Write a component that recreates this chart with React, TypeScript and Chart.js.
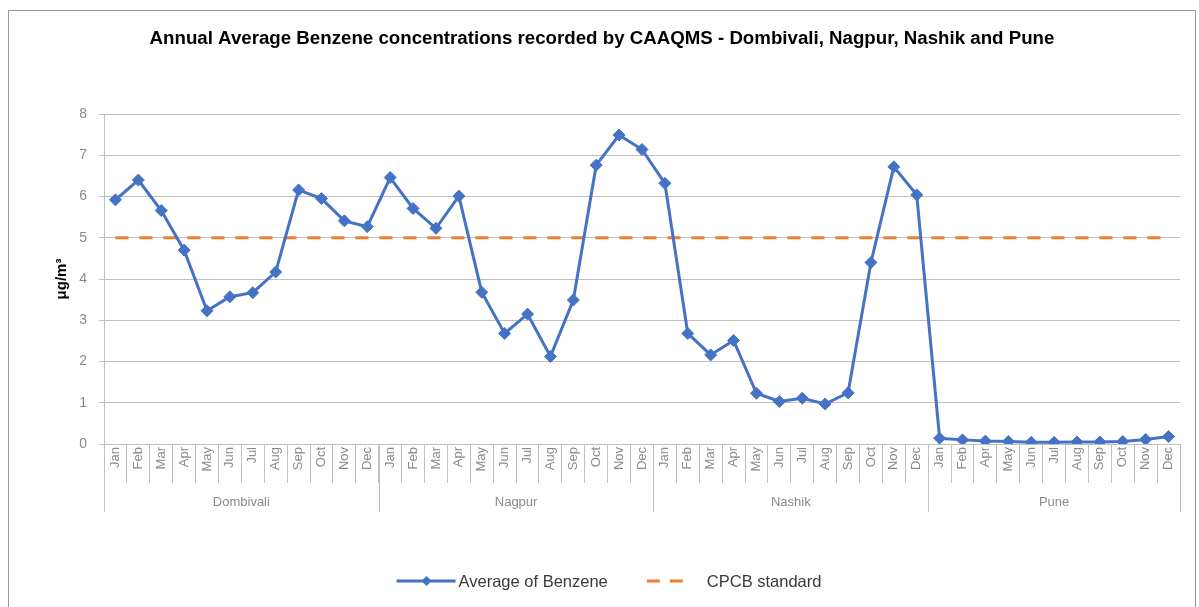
import React, { useEffect, useRef } from 'react';
import { Chart, registerables } from 'chart.js';

Chart.register(...registerables);

const FONT = '"Liberation Sans", Arial, Helvetica, sans-serif';

// ---------- data ----------
const CITIES = ['Dombivali', 'Nagpur', 'Nashik', 'Pune'];
const MONTHS_FULL = ['Jan', 'Feb', 'Mar', 'Apr', 'May', 'Jun', 'Jul', 'Aug', 'Sep', 'Oct', 'Nov', 'Dec'];
const MONTHS_PUNE = ['Jan', 'Feb', 'Apr', 'May', 'Jun', 'Jul', 'Aug', 'Sep', 'Oct', 'Nov', 'Dec'];

const DOMBIVALI = [5.92, 6.4, 5.66, 4.7, 3.23, 3.57, 3.67, 4.17, 6.16, 5.95, 5.41, 5.27];
const NAGPUR = [6.46, 5.71, 5.23, 6.01, 3.68, 2.68, 3.15, 2.12, 3.49, 6.76, 7.49, 7.14];
const NASHIK = [6.32, 2.68, 2.16, 2.51, 1.23, 1.03, 1.11, 0.97, 1.24, 4.4, 6.72, 6.04];
const PUNE = [0.14, 0.1, 0.07, 0.06, 0.04, 0.04, 0.05, 0.05, 0.06, 0.11, 0.18];

const CPCB_STANDARD = 5;
const Y_MIN = 0;
const Y_MAX = 8;
const Y_STEP = 1;

const SERIES_NAMES = ['Average of Benzene', 'CPCB standard'];
const TITLE = 'Annual Average Benzene concentrations recorded by CAAQMS - Dombivali, Nagpur, Nashik and Pune';
const Y_TITLE = 'μg/m³';

const GROUP_MONTHS = [MONTHS_FULL, MONTHS_FULL, MONTHS_FULL, MONTHS_PUNE];
const GROUP_VALUES = [DOMBIVALI, NAGPUR, NASHIK, PUNE];

const LABELS: string[] = GROUP_MONTHS.flat();
const VALUES: number[] = GROUP_VALUES.flat();
const STANDARD: number[] = LABELS.map(() => CPCB_STANDARD);

const BLUE = '#4472C4';
const ORANGE = '#ED7D31';
const GRID = '#bfbfbf';
const TICK_TEXT = '#8a8a8a';

// ---------- plugin: group level axis + legend ----------
const groupAxisPlugin = {
  id: 'groupAxis',
  afterDraw(chart: any) {
    const { ctx, chartArea } = chart;
    const xs = chart.scales.x;
    const step = xs.getPixelForValue(1) - xs.getPixelForValue(0);
    ctx.save();

    // group separators and labels
    ctx.strokeStyle = GRID;
    ctx.lineWidth = 1;
    ctx.font = `13px ${FONT}`;
    ctx.fillStyle = TICK_TEXT;
    ctx.textAlign = 'center';
    ctx.textBaseline = 'middle';
    let idx = 0;
    const bounds: number[] = [];
    GROUP_MONTHS.forEach((m, g) => {
      const left = xs.getPixelForValue(idx) - step / 2;
      const right = xs.getPixelForValue(idx + m.length - 1) + step / 2;
      if (g === 0) bounds.push(left);
      bounds.push(right);
      ctx.fillText(CITIES[g], (left + right) / 2, chartArea.bottom + 58);
      idx += m.length;
    });
    bounds.forEach((b) => {
      const px = Math.round(b) + 0.5;
      ctx.beginPath();
      ctx.moveTo(px, chartArea.bottom);
      ctx.lineTo(px, chartArea.bottom + 68);
      ctx.stroke();
    });

    // legend
    const ly = chartArea.bottom + 137;
    ctx.font = `16.5px ${FONT}`;
    ctx.textAlign = 'left';
    const w1 = ctx.measureText(SERIES_NAMES[0]).width;
    const w2 = ctx.measureText(SERIES_NAMES[1]).width;
    const total = 59 + 3 + w1 + 39 + 36 + 24 + w2;
    let lx = chart.width / 2 + 7 - total / 2;

    ctx.strokeStyle = BLUE;
    ctx.lineWidth = 3;
    ctx.setLineDash([]);
    ctx.beginPath();
    ctx.moveTo(lx, ly);
    ctx.lineTo(lx + 59, ly);
    ctx.stroke();
    ctx.fillStyle = BLUE;
    ctx.beginPath();
    const cx = lx + 30;
    const r = 5;
    ctx.moveTo(cx - r, ly);
    ctx.lineTo(cx, ly - r);
    ctx.lineTo(cx + r, ly);
    ctx.lineTo(cx, ly + r);
    ctx.closePath();
    ctx.fill();
    lx += 62;
    ctx.fillStyle = '#3a3a3a';
    ctx.fillText(SERIES_NAMES[0], lx, ly + 1);
    lx += w1 + 39;

    ctx.strokeStyle = ORANGE;
    ctx.lineWidth = 3;
    ctx.beginPath();
    ctx.moveTo(lx, ly);
    ctx.lineTo(lx + 13, ly);
    ctx.moveTo(lx + 23, ly);
    ctx.lineTo(lx + 36, ly);
    ctx.stroke();
    lx += 36 + 24;
    ctx.fillText(SERIES_NAMES[1], lx, ly + 1);

    ctx.restore();
  },
};

export default function App() {
  const canvasRef = useRef<HTMLCanvasElement | null>(null);

  useEffect(() => {
    if (!canvasRef.current) return;
    Chart.defaults.font.family = FONT;
    const chart = new Chart(canvasRef.current, {
      type: 'line',
      data: {
        labels: LABELS,
        datasets: [
          {
            label: SERIES_NAMES[0],
            data: VALUES,
            borderColor: BLUE,
            backgroundColor: BLUE,
            borderWidth: 3,
            pointStyle: 'rectRot',
            pointRadius: 6,
            pointBorderWidth: 1,
            pointBackgroundColor: BLUE,
            pointBorderColor: BLUE,
            tension: 0,
          },
          {
            label: SERIES_NAMES[1],
            data: STANDARD,
            borderColor: ORANGE,
            backgroundColor: ORANGE,
            borderWidth: 3,
            borderDash: [13, 11],
            pointRadius: 0,
            tension: 0,
          },
        ],
      },
      options: {
        animation: false,
        responsive: true,
        maintainAspectRatio: false,
        layout: { padding: { left: 0, right: 0, top: 0, bottom: 0 } },
        plugins: {
          legend: { display: false },
          tooltip: { enabled: false },
          title: {
            display: true,
            text: TITLE,
            color: '#000',
            font: { size: 18.7, weight: 'bold', family: FONT },
            padding: { top: 17, bottom: 63.6 },
          },
        },
        scales: {
          x: {
            type: 'category',
            offset: true,
            grid: {
              offset: true,
              drawOnChartArea: false,
              drawTicks: true,
              tickLength: 39,
              color: GRID,
            },
            border: { display: true, color: GRID },
            ticks: {
              autoSkip: false,
              maxRotation: 90,
              minRotation: 90,
              padding: -36,
              color: TICK_TEXT,
              font: { size: 13, family: FONT },
            },
            afterFit: (s: any) => {
              s.height = 163;
            },
          },
          y: {
            min: Y_MIN,
            max: Y_MAX,
            ticks: {
              stepSize: Y_STEP,
              padding: 12,
              color: TICK_TEXT,
              font: { size: 14, family: FONT },
            },
            grid: { color: GRID, tickLength: 5, drawTicks: true },
            border: { display: true, color: GRID },
            title: {
              display: true,
              text: Y_TITLE,
              color: '#000',
              font: { size: 15, weight: 'bold', family: FONT },
              padding: { top: 44, bottom: 0 },
            },
            afterFit: (s: any) => {
              s.width = 95;
            },
          },
          yRightSpace: {
            position: 'right',
            display: true,
            min: Y_MIN,
            max: Y_MAX,
            grid: { display: false, drawTicks: false },
            border: { display: false },
            ticks: { display: false },
            afterFit: (s: any) => {
              s.width = 15;
            },
          },
        },
      },
      plugins: [groupAxisPlugin],
    });
    return () => chart.destroy();
  }, []);

  return (
    <div
      style={{
        position: 'fixed',
        left: 8,
        top: 10,
        width: 1188,
        height: 640,
        border: '1px solid #9a9a9a',
        boxSizing: 'border-box',
        background: '#fff',
      }}
    >
      <div style={{ position: 'relative', width: 1186, height: 596 }}>
        <canvas ref={canvasRef} />
      </div>
    </div>
  );
}
